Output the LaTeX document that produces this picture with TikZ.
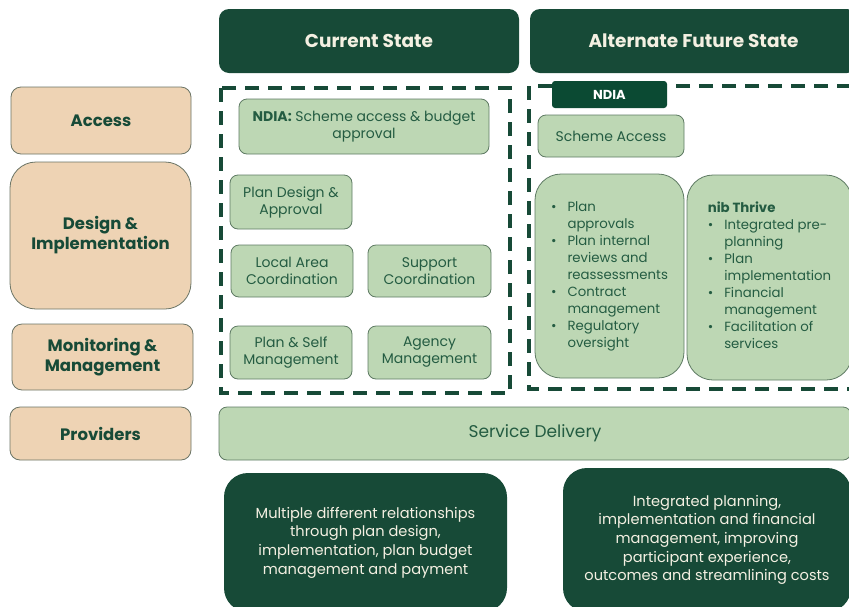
\documentclass[tikz,border=0pt]{standalone}
\usepackage{fontspec}
\setmainfont{Poppins}
\usetikzlibrary{positioning}

\definecolor{forest}{HTML}{174A37}
\definecolor{tabgreen}{HTML}{0B4A33}
\definecolor{tan}{HTML}{EED3B4}
\definecolor{sage}{HTML}{BDD7B4}
\definecolor{sageline}{HTML}{5E7A63}
\definecolor{tanline}{HTML}{6B7465}
\definecolor{inktext}{HTML}{245C42}
\definecolor{cream}{HTML}{F4F0E2}

\newcommand{\bl}{\textbullet}

\begin{document}
\begin{tikzpicture}[x=1pt, y=-1pt,
    header/.style={fill=forest, rounded corners=10pt, text=cream,
      font=\fontsize{18.5}{22}\selectfont\bfseries},
    rowlabel/.style={fill=tan, draw=tanline, line width=0.8pt, rounded corners=10pt,
      text=forest, align=center, font=\fontsize{16.5}{20}\selectfont\bfseries},
    item/.style={fill=sage, draw=sageline, line width=0.8pt, rounded corners=8pt,
      text=inktext, align=center, font=\fontsize{14}{17}\selectfont},
    bigitem/.style={item, rounded corners=26pt, font=\fontsize{13.3}{17}\selectfont},
    darkbox/.style={fill=forest, rounded corners=24pt, text=cream, align=center,
      font=\fontsize{14.6}{18.7}\selectfont},
    frame/.style={draw=forest, line width=3.2pt, dash pattern=on 14pt off 9pt},
    tab/.style={fill=tabgreen, rounded corners=3pt, text=white,
      font=\fontsize{13}{16}\selectfont\bfseries}]
  \clip (0,0) rectangle (849,606);

  % column headers
  \node[header, minimum width=300pt, minimum height=64pt] (cur) at (369,41) {Current State};
  \node[header, minimum width=327pt, minimum height=64pt] (alt) at (693.5,41) {Alternate Future State};

  % row labels
  \node[rowlabel, minimum width=180pt, minimum height=67pt] (access) at (101,120.5) {Access};
  \node[rowlabel, minimum width=181pt, minimum height=147pt, rounded corners=26pt] (design) at (100.5,235.5) {Design \&\\Implementation};
  \node[rowlabel, minimum width=181pt, minimum height=66pt] (monitor) at (102.5,357) {Monitoring \&\\Management};
  \node[rowlabel, minimum width=181pt, minimum height=53pt] (providers) at (100.5,433.5) {Providers};

  % dashed groups
  \draw[frame] (221,88) rectangle (510,393);
  \draw[frame] (529,86) rectangle (870,389);
  \node[tab, minimum width=115pt, minimum height=27pt] (ndia) at (609.5,94.5) {NDIA};

  % current state
  \node[item, minimum width=250pt, minimum height=55pt] (budget) at (364,126.5)
    {\textbf{NDIA:} Scheme access \& budget\\approval};
  \node[item, minimum width=122pt, minimum height=54pt] (plandesign) at (291,202) {Plan Design \&\\Approval};
  \node[item, minimum width=122pt, minimum height=52pt] (lac) at (292,271) {Local Area\\Coordination};
  \node[item, minimum width=123pt, minimum height=52pt] (support) at (429.5,271) {Support\\Coordination};
  \node[item, minimum width=122pt, minimum height=53pt] (selfmgmt) at (291,352.5) {Plan \& Self\\Management};
  \node[item, minimum width=123pt, minimum height=53pt] (agency) at (429.5,352.5) {Agency\\Management};

  % alternate future state
  \node[item, minimum width=146pt, minimum height=42pt] (access2) at (611,136) {Scheme Access};
  \node[bigitem, minimum width=149pt, minimum height=204pt] (ndiaroles) at (609.5,276)
    {\begin{tabular}{@{}l@{\hspace{11pt}}l@{}}
     \bl & Plan\\ & approvals\\
     \bl & Plan internal\\ & reviews and\\ & reassessments\\
     \bl & Contract\\ & management\\
     \bl & Regulatory\\ & oversight
     \end{tabular}};
  \node[bigitem, minimum width=165pt, minimum height=205pt] (thrive) at (769.5,277.5)
    {\begin{tabular}{@{}l@{\hspace{11pt}}l@{}}
     \multicolumn{2}{@{}l}{\textbf{nib Thrive}}\\
     \bl & Integrated pre-\\ & planning\\
     \bl & Plan\\ & implementation\\
     \bl & Financial\\ & management\\
     \bl & Facilitation of\\ & services
     \end{tabular}};

  % providers row
  \node[item, minimum width=632pt, minimum height=53pt, font=\fontsize{17}{20}\selectfont] (service) at (535,433.5) {Service Delivery};

  % outcomes
  \node[darkbox, minimum width=283pt, minimum height=139pt] (curout) at (365.5,542.5)
    {Multiple different relationships\\through plan design,\\implementation, plan budget\\management and payment};
  \node[darkbox, minimum width=288pt, minimum height=144pt] (altout) at (707,540)
    {Integrated planning,\\implementation and financial\\management, improving\\participant experience,\\outcomes and streamlining costs};
\end{tikzpicture}
\end{document}
